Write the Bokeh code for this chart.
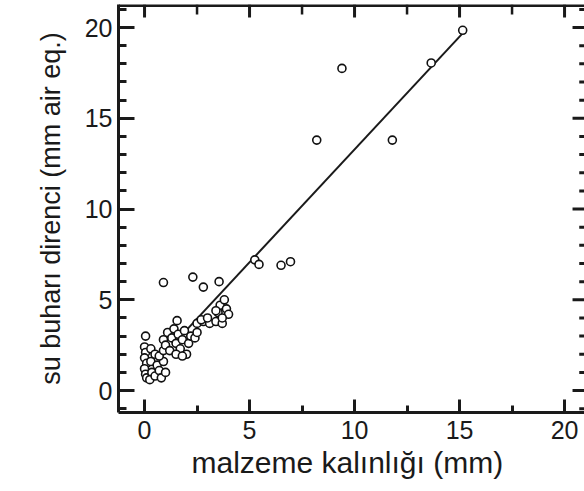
from bokeh.plotting import figure
from bokeh.models import Range1d, LinearAxis, FixedTicker
from bokeh.embed import file_html
from bokeh.resources import INLINE

# material thickness (mm) vs water vapour resistance (mm air eq.)
thickness = [0.0, 0.05, 0.0, 0.1, 0.0, 0.05, 0.1, 0.3, 0.3, 0.35, 0.25,
             0.5, 0.6, 0.5, 0.7, 0.8, 0.9, 1.0, 0.7, 0.9, 0.05,
             0.9, 1.1, 1.0, 1.3, 1.4, 1.2, 1.5, 1.6, 1.7, 1.8, 1.9, 2.0, 2.1, 2.2,
             1.5, 1.8, 2.4, 2.5, 1.55,
             2.5, 2.8, 3.1, 3.4, 3.7, 2.7, 3.0,
             3.5, 3.6, 3.8, 3.9, 4.0, 3.7, 3.4,
             0.9, 2.3, 2.8, 3.55,
             5.25, 5.45, 6.5, 6.95,
             8.2, 9.4, 11.8, 13.65, 15.15]
resistance = [2.4, 2.1, 1.8, 1.5, 1.2, 0.9, 0.7, 2.3, 1.6, 1.0, 0.6,
              2.0, 1.4, 0.8, 1.1, 0.7, 1.6, 1.0, 1.9, 2.2, 3.0,
              2.8, 3.2, 2.5, 2.9, 3.4, 2.2, 2.6, 3.1, 2.3, 2.8, 3.3, 2.0, 2.6, 3.0,
              2.0, 1.9, 2.9, 3.2, 3.85,
              3.7, 3.8, 3.7, 3.8, 3.7, 3.9, 4.0,
              4.3, 4.7, 5.0, 4.5, 4.2, 4.0, 4.4,
              5.95, 6.25, 5.7, 6.0,
              7.2, 6.95, 6.9, 7.1,
              13.8, 17.75, 13.8, 18.05, 19.85]

# regression line end points
fit_x = [2.05, 15.2]
fit_y = [3.4, 19.75]

x_ticks = [0, 5, 10, 15, 20]
x_minor = [2.5, 7.5, 12.5, 17.5]
y_ticks = [0, 5, 10, 15, 20]
y_minor = [v for v in range(-1, 22) if v % 5 != 0]

X0, X1 = -1.24, 20.95
Y0, Y1 = -1.21, 21.27

FONT = "Liberation Sans"
INK = "#1a1a1a"

p = figure(width=584, height=491, output_backend="svg", toolbar_location=None,
           x_range=Range1d(X0, X1), y_range=Range1d(Y0, Y1),
           x_axis_type=None, y_axis_type=None,
           min_border_left=118, min_border_right=0, min_border_top=4,
           min_border_bottom=79)
p.outline_line_color = None
p.xgrid.visible = False
p.ygrid.visible = False
p.background_fill_color = "white"
p.border_fill_color = "white"

# left axis
yl = LinearAxis()
yl.ticker = FixedTicker(ticks=y_ticks, minor_ticks=y_minor)
yl.axis_line_width = 3
yl.axis_line_color = INK
yl.major_tick_in = 16
yl.major_tick_out = 0
yl.minor_tick_in = 8
yl.minor_tick_out = 0
yl.major_tick_line_width = 3
yl.minor_tick_line_width = 3
yl.major_tick_line_color = INK
yl.minor_tick_line_color = INK
yl.major_label_text_font = FONT
yl.major_label_text_font_size = "25px"
yl.major_label_text_color = INK
yl.major_label_standoff = 6
yl.axis_label = "su buharı direnci (mm air eq.)"
yl.axis_label_text_font = FONT
yl.axis_label_text_font_style = "normal"
yl.axis_label_text_font_size = "27px"
yl.axis_label_text_color = INK
yl.axis_label_standoff = 16
p.add_layout(yl, "left")

# bottom axis
xb = LinearAxis()
xb.ticker = FixedTicker(ticks=x_ticks, minor_ticks=x_minor)
xb.axis_line_width = 3
xb.axis_line_color = INK
xb.major_tick_in = 13
xb.major_tick_out = 0
xb.minor_tick_in = 7
xb.minor_tick_out = 0
xb.major_tick_line_width = 3
xb.minor_tick_line_width = 3
xb.major_tick_line_color = INK
xb.minor_tick_line_color = INK
xb.major_label_text_font = FONT
xb.major_label_text_font_size = "25px"
xb.major_label_text_color = INK
xb.major_label_standoff = 8
xb.axis_label = "malzeme kalınlığı  (mm)"
xb.axis_label_text_font = FONT
xb.axis_label_text_font_style = "normal"
xb.axis_label_text_font_size = "30px"
xb.axis_label_text_color = INK
xb.axis_label_standoff = 4
p.add_layout(xb, "below")

# top frame line with inward ticks
p.segment(x0=[X0], y0=[Y1], x1=[X1], y1=[Y1], line_color=INK, line_width=5)
p.segment(x0=x_ticks, y0=[Y1] * len(x_ticks), x1=x_ticks,
          y1=[Y1 - 0.72] * len(x_ticks), line_color=INK, line_width=3)
p.segment(x0=x_minor, y0=[Y1] * len(x_minor), x1=x_minor,
          y1=[Y1 - 0.55] * len(x_minor), line_color=INK, line_width=2.5)

# right side inward ticks (the frame line itself lies beyond the picture)
p.segment(x0=[X1] * len(y_ticks), y0=y_ticks, x1=[X1 - 0.57] * len(y_ticks),
          y1=y_ticks, line_color=INK, line_width=3)
p.segment(x0=[X1] * len(y_minor), y0=y_minor, x1=[X1 - 0.25] * len(y_minor),
          y1=y_minor, line_color=INK, line_width=3)

p.line(fit_x, fit_y, line_color=INK, line_width=2)
p.scatter(thickness, resistance, marker="circle", size=8, fill_color="white",
          line_color="#111111", line_width=1.6)

open("out.html", "w").write(file_html(p, INLINE))
